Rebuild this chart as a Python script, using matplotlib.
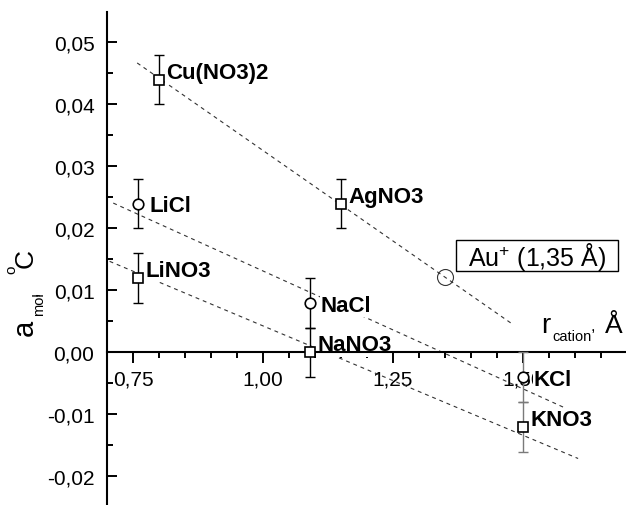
import matplotlib
matplotlib.use("Agg")
import matplotlib.pyplot as plt
from matplotlib.patches import Rectangle
from matplotlib.ticker import FixedLocator, FixedFormatter, MultipleLocator

plt.rcParams['font.family'] = ['Liberation Sans', 'DejaVu Sans']
plt.rcParams['mathtext.fontset'] = 'custom'
plt.rcParams['mathtext.rm'] = 'Liberation Sans'

# Nitrate salts (open squares)
nitrate_names = ['Cu(NO3)2', 'AgNO3', 'LiNO3', 'NaNO3', 'KNO3']
nitrate_r = [0.80, 1.15, 0.76, 1.09, 1.50]
nitrate_a = [0.044, 0.024, 0.012, 0.000, -0.012]
nitrate_err = [0.004, 0.004, 0.004, 0.004, 0.004]

# Chloride salts (open circles)
chloride_names = ['LiCl', 'NaCl', 'KCl']
chloride_r = [0.76, 1.09, 1.50]
chloride_a = [0.024, 0.008, -0.004]
chloride_err = [0.004, 0.004, 0.004]

# Linear trend lines (end points)
coinage_fit_r = [0.758, 1.481]
coinage_fit_a = [0.0467, 0.0045]
chloride_fit_r = [0.712, 1.606]
chloride_fit_a = [0.0241, -0.0099]
nitrate_fit_r = [0.705, 1.606]
nitrate_fit_a = [0.0147, -0.0171]

# Predicted gold point
au_r = 1.35
au_a = 0.0122
au_label = 'Au$^{+}$ (1,35 Å)'

x_ticks = [0.75, 1.00, 1.25, 1.50]
x_tick_labels = ['0,75', '1,00', '1,25', '1,50']
y_ticks = [-0.02, -0.01, 0.00, 0.01, 0.02, 0.03, 0.04, 0.05]
y_tick_labels = ['-0,02', '-0,01', '0,00', '0,01', '0,02', '0,03', '0,04', '0,05']

W, H = 626, 506
fig = plt.figure(figsize=(W / 100, H / 100), dpi=100)
xlim = (0.70, 1.70)
ylim = (-0.0246, 0.0549)
ax = fig.add_axes([107 / W, 0.0, 520 / W, (ylim[1] - ylim[0]) * 6200 / H])
ax.set_xlim(*xlim)
ax.set_ylim(*ylim)

for side in ('top', 'right'):
    ax.spines[side].set_visible(False)
ax.spines['bottom'].set_position(('data', 0))
for side in ('left', 'bottom'):
    ax.spines[side].set_linewidth(1.5)

ax.xaxis.set_major_locator(FixedLocator(x_ticks))
ax.xaxis.set_major_formatter(FixedFormatter(x_tick_labels))
ax.xaxis.set_minor_locator(MultipleLocator(0.05))
ax.yaxis.set_major_locator(FixedLocator(y_ticks))
ax.yaxis.set_major_formatter(FixedFormatter(y_tick_labels))
ax.yaxis.set_minor_locator(MultipleLocator(0.005))

ax.tick_params(axis='x', which='major', direction='out', length=8, width=1.4,
               labelsize=15, pad=4)
ax.tick_params(axis='x', which='minor', direction='out', length=4.5, width=1.4)
ax.tick_params(axis='y', which='major', direction='in', length=7.5, width=1.4,
               labelsize=15, pad=9)
ax.tick_params(axis='y', which='minor', direction='in', length=4.5, width=1.4)

# Trend lines
dash = dict(color='#333333', lw=0.8, dashes=(3.5, 3.5), zorder=1.8)
ax.plot(coinage_fit_r, coinage_fit_a, **dash)
ax.plot(chloride_fit_r, chloride_fit_a, **dash)
ax.plot(nitrate_fit_r, nitrate_fit_a, **dash)

def draw_series(xs, ys, errs, marker, ms):
    for x, y, e in zip(xs, ys, errs):
        col = '#7a7a7a' if x >= 1.45 else 'black'
        _, caps, bars = ax.errorbar(x, y, yerr=e, fmt='none', ecolor=col,
                                    elinewidth=1.0, capsize=3.6, capthick=1.0,
                                    zorder=3)
        for c in caps:
            c.set_color('#333333')
    ax.plot(xs, ys, ls='none', marker=marker, ms=ms, mfc='white', mec='black',
            mew=1.2, zorder=4)

draw_series(nitrate_r, nitrate_a, nitrate_err, 's', 7.2)
draw_series(chloride_r, chloride_a, chloride_err, 'o', 7.6)

label_style = dict(fontsize=16, fontweight='bold', ha='left', va='baseline',
                   textcoords='offset points', zorder=2.2,
                   bbox=dict(boxstyle='square,pad=0.05', fc='white', ec='none'))
for name, x, y in zip(nitrate_names, nitrate_r, nitrate_a):
    ax.annotate(name, (x, y), xytext=(5.2, 1.5), **label_style)
for name, x, y in zip(chloride_names, chloride_r, chloride_a):
    ax.annotate(name, (x, y), xytext=(7.8, -5.5), **label_style)

# Gold: predicted point and its framed caption
ax.plot([au_r], [au_a], ls='none', marker='o', ms=11.5, mfc='none',
        mec='#333333', mew=0.8, zorder=4)
fig.add_artist(Rectangle((456 / W, 1 - 272 / H), 162 / W, 31 / H,
                         transform=fig.transFigure, fc='white', ec='black',
                         lw=1.0, zorder=5))
fig.text(537 / W, 1 - 257 / H, au_label, fontsize=18, ha='center', va='center',
         zorder=6)

# Axis titles built from pieces so the subscripts stay small
def ftext(px, py, s, size, **kw):
    fig.text(px / W, 1 - py / H, s, fontsize=size, **kw)

ftext(541, 333, 'r', 20, ha='left', va='baseline')
ftext(552, 341, 'cation', 10.5, ha='left', va='baseline')
ftext(591, 331, ',', 12, ha='left', va='baseline')
ftext(623, 333, 'Å', 19, ha='right', va='baseline')

rot = dict(rotation=90, rotation_mode='anchor', ha='left', va='baseline')
ftext(33, 336, 'a', 21, **rot)
ftext(43, 316, 'mol', 10.5, **rot)
ftext(38, 296, ',', 12, **rot)
ftext(15, 274, 'o', 11, **rot)
ftext(33, 268, 'C', 19, **rot)

fig.savefig('out.png', dpi=100)
